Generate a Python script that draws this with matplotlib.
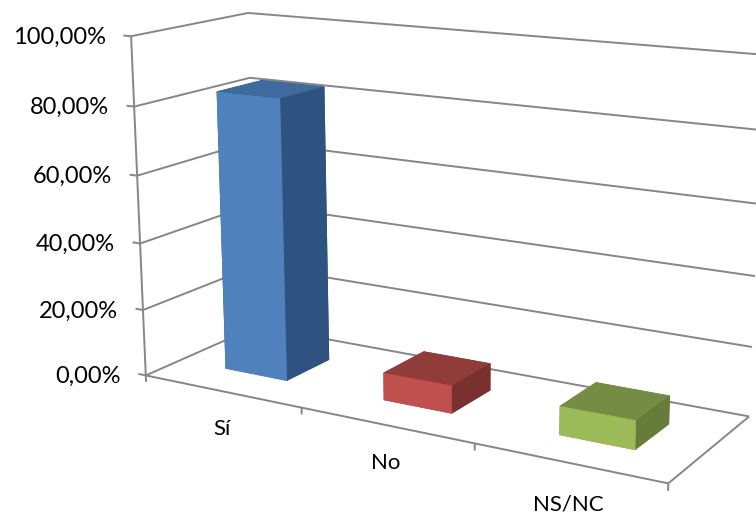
import matplotlib
matplotlib.use('Agg')
import matplotlib.pyplot as plt
from mpl_toolkits.mplot3d import proj3d

plt.rcParams['font.family'] = ['Lato', 'DejaVu Sans']

# chart data
categories = ['Sí', 'No', 'NS/NC']
values = [83.2, 8.13, 8.22]
z_ticks = [0, 20, 40, 60, 80, 100]
z_labels = ['0,00%', '20,00%', '40,00%', '60,00%', '80,00%', '100,00%']

# front, top and side shade of each bar
front_cols = ['#4F81BD', '#C0504D', '#9BBB59']
top_cols = ['#3F6A9E', '#8F3C3A', '#748C43']
side_cols = ['#2F5380', '#7A302E', '#677C3B']

GRID = '#868686'
GAP = 0.3   # gap either side of a bar, as a share of the category
LABEL_DROP = [38, 38, 42]   # pixels from the floor edge down to each category label

W, H = 756, 517
S, LEFT, BOTTOM = 705.27, 74.89, -69.59

fig = plt.figure(figsize=(W / 100, H / 100), dpi=100)
ax = fig.add_axes([LEFT / W, BOTTOM / H, S / W, S / H], projection='3d')
ax.computed_zorder = False
ax.set_axis_off()
ax.patch.set_alpha(0)


def line(xs, ys, zs):
    ax.plot(xs, ys, zs, color=GRID, lw=1.4, zorder=1, solid_capstyle='butt')


# walls and floor
n = len(categories)
for z in z_ticks:
    line([0, 0], [0, 1], [z, z])
    line([0, n], [1, 1], [z, z])
    line([-0.05, 0], [0, 0], [z, z])
line([0, 0], [0, 0], [-2, 100])
line([0, n], [0, 0], [0, 0])
line([n, n], [0, 1], [0, 0])
for i in range(1, n + 1):
    line([i, i], [0, 0], [-2, 0])

# bars
for i, val in enumerate(values):
    # bar3d face order is bottom, top, front, back, left, right
    cols = [front_cols[i], top_cols[i], front_cols[i], side_cols[i], side_cols[i], side_cols[i]]
    ax.bar3d(i + GAP, GAP, 0, 1 - 2 * GAP, 1 - 2 * GAP, val, color=cols, shade=False,
             linewidth=0, zorder=2)

ax.set_xlim(0, n, view_margin=0)
ax.set_ylim(0, 1, view_margin=0)
ax.set_zlim(0, 100, view_margin=0)
ax.set_box_aspect((1.6562, 0.5548, 1.0))
ax.view_init(14.227, -59.656, 0.132)
ax.set_proj_type('persp', focal_length=0.483)

# labels are flat text placed a fixed pixel distance from the projected axes
M = ax.get_proj()


def label(x, y, z, text, dx, dy, size, ha):
    u, v, _ = proj3d.proj_transform(x, y, z, M)
    ax.annotate(text, xy=(u, v), xytext=(dx, dy), textcoords='offset pixels', ha=ha, va='center',
                fontsize=size, color='black', zorder=3, annotation_clip=False)


for z, lab in zip(z_ticks, z_labels):
    label(0, 0, z, lab, -25, -1, 17, 'right')

for i, lab in enumerate(categories):
    label(i + 0.5, 0, 0, lab, 0, -LABEL_DROP[i], 16, 'center')

fig.savefig('out.png', dpi=100)
